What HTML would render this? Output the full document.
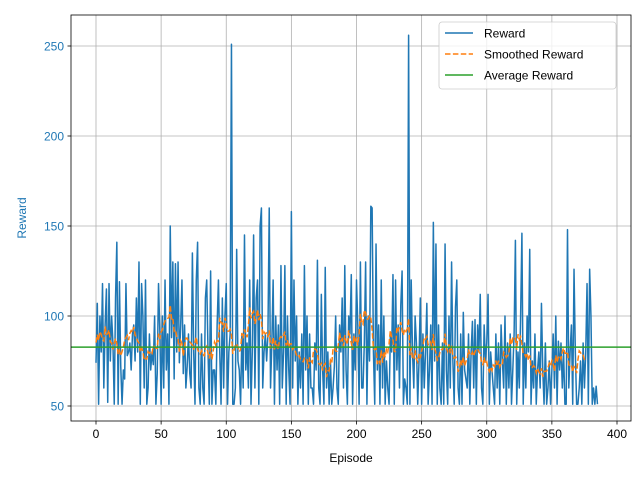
<!DOCTYPE html>
<html><head><meta charset="utf-8"><style>
body{margin:0;background:#fff;}
svg{display:block;font-family:"Liberation Sans","DejaVu Sans",sans-serif;}
</style></head><body>
<svg id="chart" width="640" height="480"></svg>
<script>
const rewards=[74,107,51,100,80,118,60,95,115,52,
118,75,100,85,51,110,141,51,119,72,
51,70,65,118,78,80,85,70,90,95,
75,110,80,130,51,118,100,60,120,51,
60,90,70,80,73,100,51,68,118,92,
51,100,60,120,70,90,51,150,88,130,
65,129,80,130,74,95,120,68,95,60,
72,90,68,60,135,80,51,120,141,60,
51,90,60,51,110,120,80,51,125,51,
70,70,51,95,120,80,51,110,60,100,
118,51,80,90,251,51,51,60,137,75,
70,51,90,60,145,70,85,60,120,51,
80,145,60,110,120,51,150,160,60,80,
90,75,90,160,60,85,120,51,100,70,
95,51,128,60,80,128,51,100,70,51,
158,60,120,75,100,51,80,60,90,51,
128,70,100,51,90,60,60,51,85,70,
131,60,51,112,70,51,127,60,80,51,
75,51,60,72,100,60,51,95,80,110,
60,128,70,51,100,90,123,51,90,70,
120,95,51,130,60,60,85,130,51,100,
75,161,160,80,51,140,70,95,51,120,
60,100,51,75,60,51,90,80,123,51,
120,70,95,60,106,125,51,65,60,51,
256,51,120,80,60,100,85,51,75,110,
51,90,60,80,107,51,70,95,51,152,
75,140,51,95,60,51,85,51,140,70,
51,100,60,130,75,51,105,120,60,51,
90,51,102,70,65,60,90,51,80,97,
60,98,51,95,80,112,60,51,95,75,
85,112,51,80,70,60,51,90,60,85,
51,95,75,60,100,51,85,60,90,51,
70,90,142,51,80,60,100,146,51,85,
60,100,80,137,51,75,60,90,51,70,
80,60,107,70,51,85,51,60,75,51,
70,90,60,100,51,86,70,85,60,80,
51,51,148,60,80,95,51,126,80,51,
51,60,75,51,85,60,80,118,51,126,
100,51,60,51,61,51];
const xTicks=[0,50,100,150,200,250,300,350,400];
const yTicks=[50,100,150,200,250];
const smoothWindow=10;

const NS="http://www.w3.org/2000/svg";
const svg=document.getElementById('chart');
const L=71,R=631,T=15,B=421;
const xs=v=>96+(v)*(617-96)/400;
const ys=v=>406-(v-50)*1.8;
function mk(tag,attrs,parent){const e=document.createElementNS(NS,tag);for(const k in attrs)e.setAttribute(k,attrs[k]);(parent||svg).appendChild(e);return e;}

const grid=mk('g',{});


xTicks.forEach(t=>{mk('line',{x1:xs(t),x2:xs(t),y1:T,y2:B,stroke:'#b0b0b0','stroke-width':0.8},grid);});
yTicks.forEach(t=>{mk('line',{x1:L,x2:R,y1:ys(t),y2:ys(t),stroke:'#b0b0b0','stroke-width':0.8},grid);});

const rp=mk('polyline',{points:rewards.map((v,i)=>xs(i)+','+ys(v)).join(' '),fill:'none',stroke:'#1f77b4','stroke-width':1.5,'stroke-linejoin':'round'});



const sm=[];
for(let i=0;i+smoothWindow<=rewards.length;i++){let s=0;for(let j=0;j<smoothWindow;j++)s+=rewards[i+j];sm.push(s/smoothWindow);}
const sp=mk('polyline',{points:sm.map((v,i)=>xs(i)+','+ys(v)).join(' '),fill:'none',stroke:'#ff7f0e','stroke-width':1.5,'stroke-dasharray':'5.5,2.4'});



const avg=rewards.reduce((a,b)=>a+b,0)/rewards.length;
const al=mk('line',{x1:L,x2:R,y1:ys(avg),y2:ys(avg),stroke:'#2ca02c','stroke-width':1.5});



const fr=mk('rect',{x:L,y:T,width:R-L,height:B-T,fill:'none',stroke:'#000','stroke-width':0.8});



xTicks.forEach(t=>{
  mk('line',{x1:xs(t),x2:xs(t),y1:B,y2:B+3.5,stroke:'#000','stroke-width':0.8});
  const tx=mk('text',{x:xs(t),y:B+17,'font-size':12,'text-anchor':'middle',fill:'#000'});
  tx.textContent=t;
  
  
});
yTicks.forEach(t=>{
  mk('line',{x1:L-3.5,x2:L,y1:ys(t),y2:ys(t),stroke:'#000','stroke-width':0.8});
  const tx=mk('text',{x:L-7,y:ys(t)+4.5,'font-size':12,'text-anchor':'end',fill:'#1f77b4'});
  tx.textContent=t;
  
  
});
const xl=mk('text',{x:(L+R)/2,y:462,'font-size':12,'text-anchor':'middle'});
xl.textContent='Episode';


const yl=mk('text',{x:0,y:0,'font-size':12,'text-anchor':'middle',fill:'#1f77b4',transform:'translate(26,'+((T+B)/2)+') rotate(-90)'});
yl.textContent='Reward';



const lg=mk('g',{});


mk('rect',{x:439,y:22,width:177,height:67,rx:3,fill:'#fff','fill-opacity':0.8,stroke:'#ccc','stroke-width':0.8},lg);
const items=[['Reward','#1f77b4',''],['Smoothed Reward','#ff7f0e','5.5,2.4'],['Average Reward','#2ca02c','']];
items.forEach((it,k)=>{
  const y=33+k*21;
  const g=mk('g',{},lg);
  
  
  const ln=mk('line',{x1:445,x2:473,y1:y,y2:y,stroke:it[1],'stroke-width':1.5},g);
  if(it[2])ln.setAttribute('stroke-dasharray',it[2]);
  const t=mk('text',{x:484,y:y+4.5,'font-size':12},g);
  t.textContent=it[0];
});
</script>
</body></html>
